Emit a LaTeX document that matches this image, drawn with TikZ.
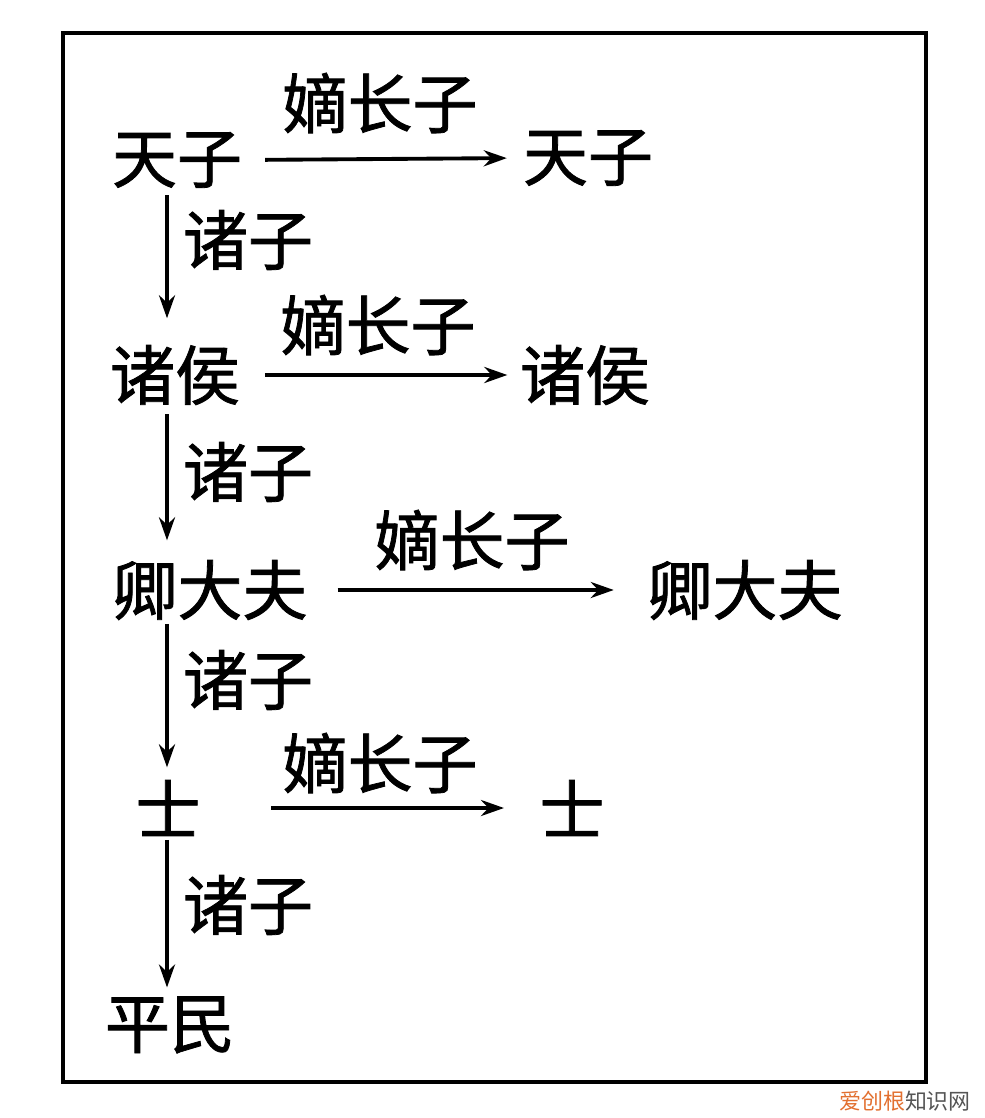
\documentclass[tikz,border=0pt]{standalone}
\usepackage{fontspec}
\setmainfont{Noto Sans CJK SC}
\newfontfamily\heavy[FakeBold=1.2]{Noto Sans CJK SC}
\usetikzlibrary{arrows.meta}
\definecolor{wmorange}{RGB}{226,112,48}
\definecolor{wmgrey}{RGB}{85,85,85}
\tikzset{
  rank/.style={inner sep=0pt, font=\heavy\fontsize{37pt}{37pt}\selectfont},
  link/.style={line width=2.2pt, -{Stealth[length=0.46cm,width=0.32cm]}}
}
\begin{document}
\begin{tikzpicture}[x=0.02cm,y=-0.02cm]
\useasboundingbox (0,0) rectangle (984,1118);
\draw[line width=2.6pt] (63,33) rectangle (926,1082);
% left column
\node[rank] (tz) at (177,160) {天子};
\node[rank] (zh) at (175,375) {诸侯};
\node[rank] (qdf) at (210,590) {卿大夫};
\node[rank] (shi) at (168,808) {士};
\node[rank] (pm) at (170,1025) {平民};
% right column
\node[rank] (tzr) at (588,158) {天子};
\node[rank] (zhr) at (585,375) {诸侯};
\node[rank] (qdfr) at (745,590) {卿大夫};
\node[rank] (shir) at (572,808) {士};
% labels
\node[rank] (dz1) at (380,103) {嫡长子};
\node[rank] (dz2) at (378,325) {嫡长子};
\node[rank] (dz3) at (472,540) {嫡长子};
\node[rank] (dz4) at (380,763) {嫡长子};
\node[rank] (zz1) at (248,240) {诸子};
\node[rank] (zz2) at (248,472) {诸子};
\node[rank] (zz3) at (248,680) {诸子};
\node[rank] (zz4) at (248,905) {诸子};
% inheritance
\draw[link,shorten <=13pt,shorten >=9pt] (tz.east) -- (tzr.west);
\draw[link,shorten <=14pt,shorten >=7pt] (zh.east) -- (zhr.west);
\draw[link,shorten <=17pt,shorten >=19pt] (qdf.east) -- (qdfr.west);
\draw[link,shorten <=40pt,shorten >=20pt] (shi.east) -- (shir.west);
% descent
\coordinate (x0) at (167,0);
\draw[link,shorten <=4pt,shorten >=15pt] (tz.south -| x0) -- (zh.north -| x0);
\draw[link,shorten <=5pt,shorten >=11pt] (zh.south -| x0) -- (qdf.north -| x0);
\draw[link,shorten <=2pt,shorten >=7pt] (qdf.south -| x0) -- (shi.north -| x0);
\draw[link,shorten <=2pt,shorten >=5pt] (shi.south -| x0) -- (pm.north -| x0);
% watermark
\node[inner sep=0pt,font=\fontsize{12.5pt}{12.5pt}\selectfont] (wm) at (905,1101) {\textcolor{wmorange}{爱创根}\textcolor{wmgrey}{知识网}};
\end{tikzpicture}
\end{document}
